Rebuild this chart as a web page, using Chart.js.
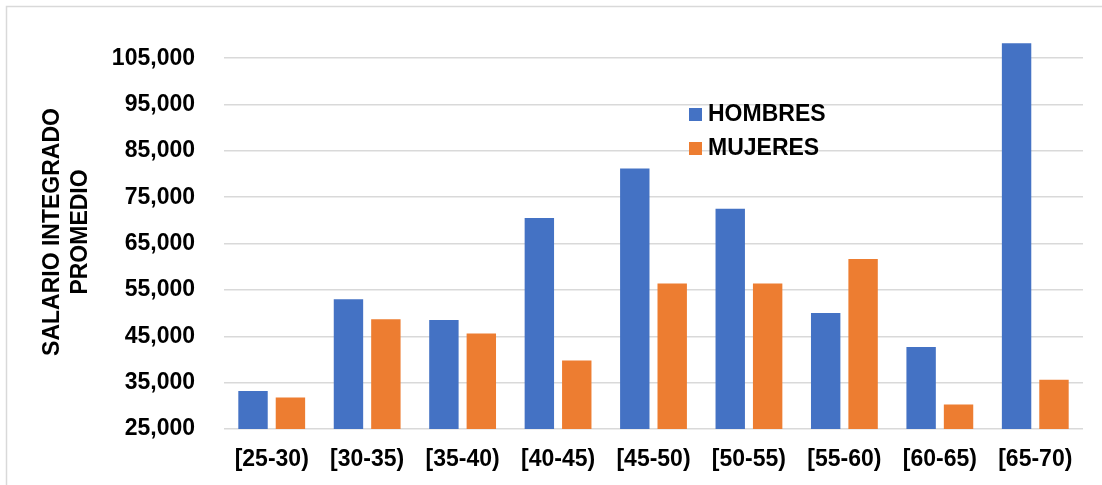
<!DOCTYPE html>
<html>
<head>
<meta charset="utf-8">
<script src="https://cdn.jsdelivr.net/npm/chart.js@4/dist/chart.umd.min.js"></script>
<style>
  html, body { margin: 0; padding: 0; background: #ffffff; }
  #wrap { width: 1102px; height: 485px; position: relative; }
</style>
</head>
<body>
<div id="wrap"><canvas id="c" width="1102" height="485"></canvas></div>
<script>
// Age brackets and average integrated salary by sex
const categories = ['[25-30)', '[30-35)', '[35-40)', '[40-45)', '[45-50)', '[50-55)', '[55-60)', '[60-65)', '[65-70)'];
const hombres = [33200, 53000, 48500, 70500, 81200, 72500, 50000, 42700, 108200];
const mujeres = [31800, 48700, 45600, 39800, 56400, 56400, 61700, 30300, 35600];
const yTicks = [25000, 35000, 45000, 55000, 65000, 75000, 85000, 95000, 105000];
const yTitle = ['SALARIO INTEGRADO', 'PROMEDIO'];

const FONT = '"Liberation Sans", Arial, sans-serif';
const BLUE = '#4472C4';
const ORANGE = '#ED7D31';
const GRID = '#d9d9d9';

// Outer frame, rotated y title and the in-plot legend
const decor = {
  id: 'decor',
  beforeDraw(chart) {
    const ctx = chart.ctx;
    ctx.save();
    ctx.fillStyle = '#ffffff';
    ctx.fillRect(0, 0, chart.width, chart.height);
    ctx.strokeStyle = GRID;
    ctx.lineWidth = 1.5;
    ctx.strokeRect(6.5, 6.5, chart.width + 20, chart.height + 20);
    ctx.restore();
  },
  afterDraw(chart) {
    const ctx = chart.ctx;
    const area = chart.chartArea;
    ctx.save();
    // axis title
    ctx.fillStyle = '#000000';
    ctx.font = 'bold 23px ' + FONT;
    ctx.textAlign = 'center';
    ctx.textBaseline = 'middle';
    const cy = (area.top + area.bottom) / 2;
    const xs = [53, 81];
    yTitle.forEach((line, i) => {
      ctx.save();
      ctx.translate(xs[i], cy);
      ctx.rotate(-Math.PI / 2);
      ctx.fillText(line, 0, 0);
      ctx.restore();
    });
    // legend
    const lx = area.left + 465;
    const ly = [114, 148];
    ctx.textAlign = 'left';
    chart.data.datasets.forEach((ds, i) => {
      ctx.fillStyle = ds.backgroundColor;
      ctx.fillRect(lx, ly[i] - 6, 13, 13);
      ctx.fillStyle = '#000000';
      ctx.fillText(ds.label, lx + 19, ly[i] + 1);
    });
    ctx.restore();
  }
};

new Chart(document.getElementById('c'), {
  type: 'bar',
  data: {
    labels: categories,
    datasets: [
      { label: 'HOMBRES', data: hombres, backgroundColor: BLUE, categoryPercentage: 0.784, barPercentage: 0.786 },
      { label: 'MUJERES', data: mujeres, backgroundColor: ORANGE, categoryPercentage: 0.784, barPercentage: 0.786 }
    ]
  },
  options: {
    responsive: false,
    animation: false,
    devicePixelRatio: 1,
    layout: { padding: { left: 0, right: 19, top: 35, bottom: 0 } },
    plugins: { legend: { display: false }, tooltip: { enabled: false } },
    scales: {
      x: {
        grid: { display: false, drawTicks: false },
        border: { display: false },
        ticks: { color: '#000000', font: { family: FONT, size: 23, weight: 'bold' }, padding: 17, maxRotation: 0 },
        afterFit(scale) { scale.height = 56; }
      },
      y: {
        min: 25000,
        max: 110000,
        grid: { color: GRID, lineWidth: 1.5, drawTicks: false },
        border: { display: false },
        ticks: {
          color: '#000000',
          font: { family: FONT, size: 23, weight: 'bold' },
          padding: 29,
          callback: (v) => v.toLocaleString('en-US')
        },
        afterBuildTicks(scale) { scale.ticks = yTicks.map(v => ({ value: v })); },
        afterFit(scale) {
          scale.width = 224;
          scale.paddingTop = 0;
          scale.paddingBottom = 0;
        }
      }
    }
  },
  plugins: [decor]
});
</script>
</body>
</html>
